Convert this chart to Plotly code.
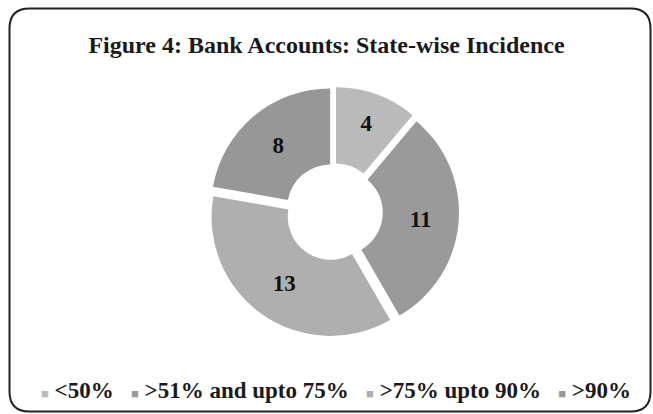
import html
import plotly.graph_objects as go

categories = ["<50%", ">51% and upto 75%", ">75% upto 90%", ">90%"]
values = [4, 11, 13, 8]
colors = ["#bababa", "#9a9a9a", "#afafaf", "#979797"]
title_text = "Figure 4: Bank Accounts: State-wise Incidence"

W, H = 653, 414
FONT = "Liberation Serif"

fig = go.Figure(go.Pie(
    labels=categories,
    values=values,
    sort=False,
    direction="clockwise",
    rotation=0,
    hole=0.36,
    pull=[0.05] * 4,
    marker=dict(colors=colors, line=dict(width=0)),
    textinfo="value",
    textposition="inside",
    insidetextorientation="horizontal",
    textfont=dict(family=FONT, size=23, color="#111111", weight="bold"),
    domain=dict(x=[209 / W, 459 / W], y=[(H - 337) / H, (H - 87) / H]),
    hoverinfo="label+value",
    showlegend=False,
))

# legend line built from the category names and slice colours
legend_parts = [
    f'<span style="font-size:13px;color:{c}">■</span> {html.escape(cat)}'
    for cat, c in zip(categories, colors)
]
legend_text = "&nbsp;&nbsp;&nbsp;".join(legend_parts)

# rounded border in paper coords
x0, x1 = 9.5 / W, 650.5 / W
y0, y1 = 1 - 411.5 / H, 1 - 8.5 / H
rx, ry = 20 / W, 20 / H
path = (f"M {x0+rx},{y1} L {x1-rx},{y1} Q {x1},{y1} {x1},{y1-ry} "
        f"L {x1},{y0+ry} Q {x1},{y0} {x1-rx},{y0} "
        f"L {x0+rx},{y0} Q {x0},{y0} {x0},{y0+ry} "
        f"L {x0},{y1-ry} Q {x0},{y1} {x0+rx},{y1} Z")

fig.update_layout(
    width=W, height=H,
    margin=dict(l=0, r=0, t=0, b=0),
    paper_bgcolor="white",
    plot_bgcolor="white",
    title=dict(text=title_text, x=0.5, xanchor="center", y=1 - 45 / H, yanchor="middle",
               font=dict(family=FONT, size=24, color="#1a1a1a", weight="bold")),
    showlegend=False,
    annotations=[dict(text=legend_text, x=336 / W, y=1 - 390 / H, xref="paper", yref="paper",
                      xanchor="center", yanchor="middle", showarrow=False,
                      font=dict(family=FONT, size=23, color="#1a1a1a", weight="bold"))],
    shapes=[dict(type="path", path=path, xref="paper", yref="paper",
                 line=dict(color="#222222", width=2), fillcolor="rgba(0,0,0,0)", layer="below")],
)

fig.write_html("out.html", config={"displayModeBar": False},
               post_script="document.body.style.margin='0';")
